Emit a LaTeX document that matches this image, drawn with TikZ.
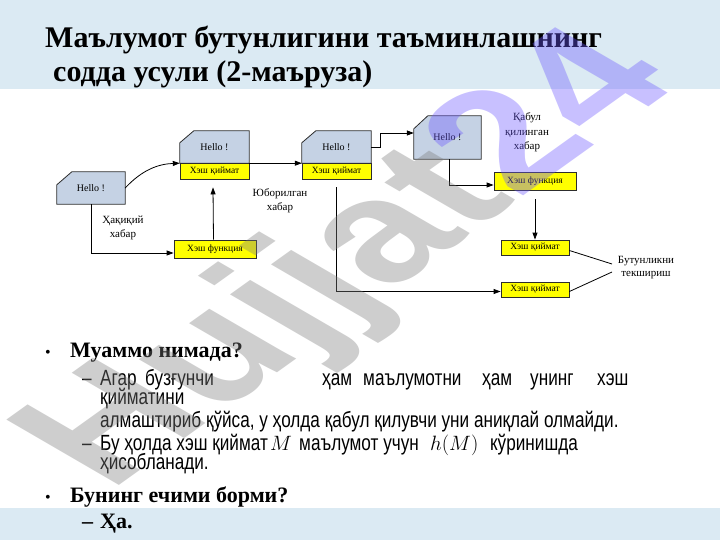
\documentclass[tikz,border=0pt]{standalone}
\usepackage{fontspec}
\setmainfont{Liberation Serif}
\newfontfamily\bodyfont[FakeStretch=0.78]{Liberation Sans}
\newfontfamily\wmfont{Liberation Sans}
\usetikzlibrary{arrows.meta,backgrounds}
\definecolor{band}{RGB}{219,234,243}
\definecolor{boxblue}{RGB}{197,210,228}
\definecolor{boxyel}{RGB}{255,255,0}
\definecolor{edgec}{RGB}{45,45,45}
\definecolor{wmgray}{RGB}{125,125,125}
\definecolor{wmpurp}{RGB}{110,90,255}
\begin{document}
\begin{tikzpicture}[x=1pt,y=-1pt,
  hellobox/.style={minimum width=69pt, minimum height=32pt, inner sep=0pt, font=\fontsize{10}{12}\selectfont},
  yelbox/.style={draw=edgec, fill=boxyel, line width=0.8pt, inner sep=0pt, font=\fontsize{9.5}{11}\selectfont},
  cutshape/.style={draw=edgec, fill=boxblue, line width=0.8pt},
  arr/.style={-{Triangle[length=7pt,width=5pt]}, line width=0.8pt},
  conn/.style={line width=0.8pt},
  lab/.style={align=center, inner sep=0pt, font=\fontsize{11}{14}\selectfont},
  bt/.style={anchor=base west, inner sep=0pt, font=\bodyfont\fontsize{22}{24}\selectfont},
  bb/.style={anchor=base west, inner sep=0pt, font=\bfseries\fontsize{22}{24}\selectfont},
  tt/.style={anchor=base west, inner sep=0pt, font=\bfseries\fontsize{30}{36}\selectfont}
]
\useasboundingbox (0,0) rectangle (720,540);
\fill[band] (0,0) rectangle (720,89);
\fill[band] (0,508) rectangle (720,540);

% title
\node[tt] (t1) at (45,48) {Маълумот бутунлигини таъминлашнинг};
\node[tt] (t2) at (53,82) {содда усули (2-маъруза)};

% diagram boxes
\node[hellobox, minimum width=68pt] (h1) at (91,188) {Hello !};
\node[hellobox] (h2) at (214.5,147) {Hello !};
\node[yelbox, minimum width=69pt, minimum height=16pt] (h2y) at (214.5,171) {Хэш қиймат};
\node[hellobox] (h3) at (336.5,147) {Hello !};
\node[yelbox, minimum width=69pt, minimum height=16pt] (h3y) at (336.5,171) {Хэш қиймат};
\node[hellobox, minimum width=67pt, minimum height=43pt] (h4) at (447.5,137.5) {Hello !};
\node[yelbox, minimum width=82pt, minimum height=18pt] (f1) at (215,249) {Хэш функция};
\node[yelbox, minimum width=82pt, minimum height=18pt] (f2) at (535,181) {Хэш функция};
\node[yelbox, minimum width=68pt, minimum height=15pt] (v1) at (535,247.5) {Хэш қиймат};
\node[yelbox, minimum width=68pt, minimum height=15pt] (v2) at (535,289.5) {Хэш қиймат};

\begin{pgfonlayer}{background}
\draw[cutshape] (h1.south west) -- (h1.south east) -- (h1.north east) -- ([xshift=15pt]h1.north west) -- ([yshift=-13pt]h1.north west) -- cycle;
\draw[cutshape] (h2.south west) -- (h2.south east) -- (h2.north east) -- ([xshift=14pt]h2.north west) -- ([yshift=-12pt]h2.north west) -- cycle;
\draw[cutshape] (h3.south west) -- (h3.south east) -- (h3.north east) -- ([xshift=14pt]h3.north west) -- ([yshift=-12pt]h3.north west) -- cycle;
\draw[cutshape] (h4.south west) -- (h4.south east) -- (h4.north east) -- ([xshift=14pt]h4.north west) -- ([yshift=-13pt]h4.north west) -- cycle;
\end{pgfonlayer}

% labels
\node[lab] (l1) at (123,227.5) {Ҳақиқий\\хабар};
\node[lab] (l2) at (280,201) {Юборилган\\хабар};
\node[lab, font=\fontsize{11}{14.5}\selectfont] (l3) at (527,132.5) {Қабул\\қилинган\\хабар};
\node[lab, font=\fontsize{11}{13}\selectfont] (l4) at (646,267.5) {Бутунликни\\текшириш};
\coordinate (ck1) at (612,264);
\coordinate (ck2) at (612,272);

% connectors
\draw[arr] (h1.east) .. controls (142,170) and (158,164) .. (h2.south west);
\draw[arr] (h2.south east) -- (h3.south west);
\draw[arr] (h3.east) -- ++(9,0) |- ([yshift=4.5pt]h4.west);
\draw[arr] ([xshift=1.5pt]h4.south) |- ([yshift=-4pt]f2.west);
\draw[arr] ([yshift=-9pt]f2.south) -- (v1.north);
\draw[arr] ([yshift=-8pt]h3y.south) |- ([yshift=-2pt]v2.west);
\draw[arr] ([xshift=-1.5pt]f1.north) -- ([xshift=-1.5pt,yshift=-8pt]h2y.south);
\draw[arr] (h1.south) |- ([yshift=-4pt]f1.west);
\draw[conn] ([yshift=-3pt]v1.east) -- (ck1);
\draw[conn] ([yshift=-2pt]v2.east) -- (ck2);

% bullets
\node[anchor=base west, inner sep=0pt, font=\fontsize{16}{18}\selectfont] (b1) at (45,357) {•};
\node[bb] (p1) at (70,357) {Муаммо нимада?};
\node[bt] (d1) at (82,385) {–};
\node[bt] (w1) at (100,385) {Агар};
\node[bt] (w2) at (145,385) {бузғунчи};
\node[bt] (w3) at (322,385) {ҳам};
\node[bt] (w4) at (363,385) {маълумотни};
\node[bt] (w5) at (482,385) {ҳам};
\node[bt] (w6) at (530,385) {унинг};
\node[bt] (w7) at (597,385) {хэш};
\node[bt] (s2) at (100,404) {қийматини};
\node[bt] (s3) at (100,427) {алмаштириб қўйса, у ҳолда қабул қилувчи уни аниқлай олмайди.};
\node[bt] (d2) at (82,450) {–};
\node[bt] (s4a) at (100,450) {Бу ҳолда хэш қиймат};
\node[bt] (s4b) at (270,450) {$M$};
\node[bt] (s4c) at (299,450) {маълумот учун};
\node[bt] (s4d) at (430,450) {$h(M)$};
\node[bt] (s4e) at (490,450) {кўринишда};
\node[bt] (s5) at (100,469) {ҳисобланади.};
\node[anchor=base west, inner sep=0pt, font=\fontsize{16}{18}\selectfont] (b2) at (45,502) {•};
\node[bb] (p2) at (70,502) {Бунинг ечими борми?};
\node[bb] (d3) at (82,528) {–};
\node[bb] (s6) at (100,528) {Ҳа.};

% watermark
\begin{scope}[shift={(354,263)}, xscale=1.55]
\node[rotate=48, transform shape, inner sep=0pt, opacity=0.38, font=\wmfont\bfseries\fontsize{142}{142}\selectfont] (wm) at (0,0) {\textcolor{wmgray}{Hujjat}\textcolor{wmpurp}{24}};
\end{scope}
\end{tikzpicture}
\end{document}
